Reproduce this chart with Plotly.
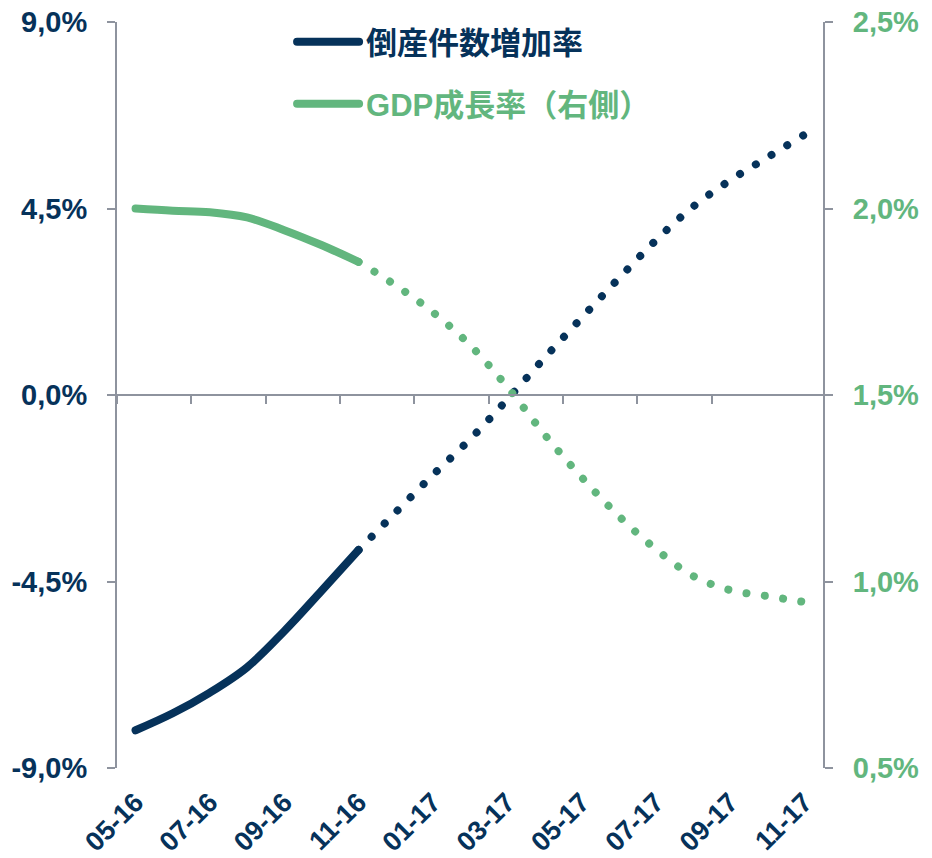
import plotly.graph_objects as go

# ---- data ----
months = ["05-16", "06-16", "07-16", "08-16", "09-16", "10-16", "11-16",
          "12-16", "01-17", "02-17", "03-17", "04-17", "05-17", "06-17",
          "07-17", "08-17", "09-17", "10-17", "11-17"]
bankruptcy_growth = [-8.09, -7.68, -7.18, -6.57, -5.70, -4.73, -3.74,
                     -2.83, -1.93, -1.07, -0.11, 0.89, 1.86, 2.81,
                     3.73, 4.54, 5.18, 5.73, 6.28]
gdp_growth = [2.00, 1.994, 1.99, 1.976, 1.942, 1.902, 1.857,
              1.794, 1.722, 1.634, 1.522, 1.395, 1.280, 1.176,
              1.087, 1.015, 0.977, 0.961, 0.945]
actual_end = 6  # last actual month (11-16); later values are projections

x_ticklabels = months[::2]
left_ticks = [-9, -4.5, 0, 4.5, 9]
left_ticktext = ["-9,0%", "-4,5%", "0,0%", "4,5%", "9,0%"]
right_ticks = [0.5, 1.0, 1.5, 2.0, 2.5]
right_ticktext = ["0,5%", "1,0%", "1,5%", "2,0%", "2,5%"]
boundary_ticks = [i - 0.5 for i in range(0, len(months) - 1, 2)]

name_bank = "倒産件数増加率"
name_gdp = "GDP成長率（右側）"

NAVY = "#06325A"
GREEN = "#62B67E"
GREY = "#8E939E"
FONT = "Liberation Sans, Arial, Noto Sans CJK JP, sans-serif"
DOT = "8px,10.5px"

fig = go.Figure()

fig.add_trace(go.Scatter(
    x=months[:actual_end + 1], y=bankruptcy_growth[:actual_end + 1],
    mode="lines", line=dict(color=NAVY, width=8, shape="spline"),
    name=name_bank, legend="legend", hoverinfo="skip"))
fig.add_trace(go.Scatter(
    x=months[actual_end:], y=bankruptcy_growth[actual_end:],
    mode="lines", line=dict(color=NAVY, width=8, shape="spline", dash=DOT),
    showlegend=False, hoverinfo="skip"))
fig.add_trace(go.Scatter(
    x=months[:actual_end + 1], y=gdp_growth[:actual_end + 1],
    mode="lines", line=dict(color=GREEN, width=8, shape="spline"),
    name=name_gdp, legend="legend2", yaxis="y2", hoverinfo="skip"))
fig.add_trace(go.Scatter(
    x=months[actual_end:], y=gdp_growth[actual_end:],
    mode="lines", line=dict(color=GREEN, width=8, shape="spline", dash=DOT),
    showlegend=False, yaxis="y2", hoverinfo="skip"))
# empty trace to carry the zero-line axis with boundary tick marks
fig.add_trace(go.Scatter(x=[], y=[], xaxis="x2", showlegend=False,
                         hoverinfo="skip"))

axis_common = dict(showgrid=False, zeroline=False, showline=True,
                   linecolor=GREY, linewidth=2, ticks="outside",
                   ticklen=8, tickwidth=2, tickcolor=GREY, automargin=False,
                   ticklabeloverflow="allow")

fig.update_layout(
    template="none",
    width=932, height=858,
    margin=dict(l=117, r=109, t=22, b=90, autoexpand=False),
    paper_bgcolor="white", plot_bgcolor="white",
    font=dict(family=FONT),
    xaxis=dict(type="category", range=[-0.5, len(months) - 0.5],
               tickmode="array", tickvals=x_ticklabels, ticktext=x_ticklabels,
               tickangle=-45, showgrid=False, zeroline=False, showline=False,
               ticks="", ticklabelstandoff=12, automargin=False,
               ticklabeloverflow="allow",
               tickfont=dict(size=27, color=NAVY, family=FONT, weight="bold")),
    xaxis2=dict(overlaying="x", anchor="free", position=0.5,
                range=[-0.5, len(months) - 0.5], tickmode="array",
                tickvals=boundary_ticks, showticklabels=False,
                showgrid=False, zeroline=False, showline=True,
                linecolor=GREY, linewidth=2, ticks="outside", ticklen=8,
                tickwidth=2, tickcolor=GREY, automargin=False),
    yaxis=dict(range=[-9, 9], tickmode="array", tickvals=left_ticks,
               ticktext=left_ticktext, ticklabelstandoff=14,
               tickfont=dict(size=29, color=NAVY, family=FONT, weight="bold"),
               **axis_common),
    yaxis2=dict(range=[0.5, 2.5], overlaying="y", side="right",
                tickmode="array", tickvals=right_ticks,
                ticktext=right_ticktext, ticklabelstandoff=14,
                tickfont=dict(size=29, color=GREEN, family=FONT, weight="bold"),
                **axis_common),
    legend=dict(x=0.248, y=0.973, xanchor="left", yanchor="middle",
                bgcolor="rgba(0,0,0,0)", itemwidth=64,
                font=dict(size=31, color=NAVY, family=FONT, weight="bold")),
    legend2=dict(x=0.248, y=0.890, xanchor="left", yanchor="middle",
                 bgcolor="rgba(0,0,0,0)", itemwidth=64,
                 font=dict(size=31, color=GREEN, family=FONT, weight="bold")),
    showlegend=True,
)

# page without default body margin; round line caps so the dotted
# projections render as round dots; longer legend line samples
post_js = """
document.body.style.margin = '0';
var gd = document.querySelector('.plotly-graph-div');
gd.querySelectorAll('.scatterlayer .js-line, .legendlines path').forEach(function(p){
  p.style.strokeLinecap = 'round';
  var da = p.style.strokeDasharray;
  if (da && da !== 'none' && da !== '') { p.style.strokeDasharray = '0.01px,18.5px'; }
});
gd.querySelectorAll('.legendlines path').forEach(function(p){
  p.setAttribute('d', 'M5,0h62');
});
"""

fig.write_html("out.html", post_script=post_js,
               config={"displayModeBar": False, "staticPlot": True})
